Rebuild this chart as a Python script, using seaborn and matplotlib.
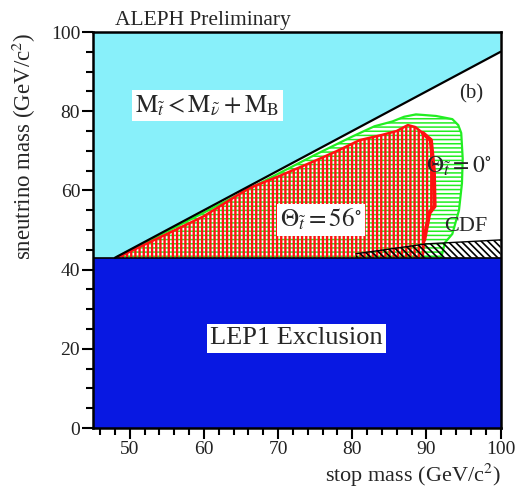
import matplotlib
matplotlib.use("Agg")
import matplotlib.pyplot as plt
import seaborn as sns
import pandas as pd
import numpy as np

# Axis ranges and ticks
x_range = [45, 100]
y_range = [0, 100]
x_major = [50, 60, 70, 80, 90, 100]
y_major = [0, 20, 40, 60, 80, 100]

# LEP1 sneutrino exclusion
lep1_limit = 43.0

# Kinematic limit M_stop = M_snu + M_b
kin_stop = [48.0, 100.0]
kin_snu = [43.0, 95.0]

# Excluded region, mixing angle 0 deg (green)
green_stop = [48.3, 55.0, 60.0, 66.0, 70.0, 75.0, 80.0, 83.0, 85.4, 87.0, 88.6,
              91.3, 93.5, 94.3, 94.7, 94.9, 94.8, 94.4, 93.5, 92.5, 92.0, 48.3]
green_snu = [43.2, 49.6, 54.4, 60.3, 64.2, 69.0, 73.6, 76.2, 77.4, 78.6, 79.2,
             78.8, 78.0, 76.5, 74.5, 68.0, 61.8, 55.0, 49.0, 46.8, 43.0, 43.0]

# Excluded region, mixing angle 56 deg (red)
red_stop = [48.5, 55.0, 60.0, 66.0, 70.0, 75.0, 78.0, 81.0, 84.0, 86.0, 87.5,
            88.5, 89.5, 90.6, 91.0, 91.1, 90.4, 89.7, 89.5, 48.5]
red_snu = [43.2, 49.0, 53.5, 60.5, 63.5, 67.5, 70.0, 72.7, 74.0, 75.0, 76.5,
           76.0, 74.5, 72.7, 65.0, 56.0, 54.3, 47.5, 43.0, 43.0]

# CDF excluded band
cdf_stop = [80.5, 80.5, 90.0, 100.0, 100.0]
cdf_snu = [43.0, 44.0, 46.5, 47.5, 43.0]

cyan = "#88f0fa"
blue = "#0818e2"
green = "#22ee22"
red = "#ff1010"

sns.set_theme(style="ticks")
plt.rcParams["font.family"] = ["Liberation Serif", "DejaVu Serif"]
plt.rcParams["mathtext.fontset"] = "stix"

fig = plt.figure(figsize=(5.16, 4.91), dpi=100)
ax = fig.add_axes([0.1797, 0.1283, 0.7903, 0.8065])
ax.set_xlim(*x_range)
ax.set_ylim(*y_range)

# Region above the kinematic limit
cyan_x = [x_range[0], kin_stop[0], kin_stop[1], x_range[1], x_range[1], x_range[0]]
cyan_y = [lep1_limit, kin_snu[0], kin_snu[1], kin_snu[1], y_range[1], y_range[1]]
ax.fill(cyan_x, cyan_y, facecolor=cyan, edgecolor="none", zorder=1)

# LEP1 exclusion
ax.fill_between(x_range, [0, 0], [lep1_limit, lep1_limit], facecolor=blue,
                edgecolor="none", zorder=1)

# Green (0 deg) region
with plt.rc_context({"hatch.linewidth": 1.1}):
    ax.fill(green_stop, green_snu, facecolor="white", edgecolor=green,
            hatch="----", linewidth=0, zorder=2)
ax.plot(green_stop[:-1], green_snu[:-1], color=green, lw=1.6, zorder=2.1)

# Red (56 deg) region
with plt.rc_context({"hatch.linewidth": 1.7}):
    ax.fill(red_stop, red_snu, facecolor="none", edgecolor=red, hatch="||||",
            linewidth=0, zorder=3)
ax.plot(red_stop[:-1], red_snu[:-1], color=red, lw=1.8, zorder=3.1)
ax.plot(red_stop[12:18], red_snu[12:18], color=red, lw=3.0, zorder=3.1)

# CDF band
with plt.rc_context({"hatch.linewidth": 1.2}):
    ax.fill(cdf_stop, cdf_snu, facecolor="none", edgecolor="black",
            hatch="\\\\\\\\\\", linewidth=0, zorder=4)
ax.plot(cdf_stop[1:4], cdf_snu[1:4], color="black", lw=1.0, zorder=4)
ax.axhline(lep1_limit, color="black", lw=1.2, zorder=4)

# Kinematic limit line
kin = pd.DataFrame({"stop": kin_stop, "snu": kin_snu})
sns.lineplot(data=kin, x="stop", y="snu", color="black", lw=1.6, ax=ax, zorder=5)

# Labels
box = dict(facecolor="white", edgecolor="none", pad=2.5)
ax.text(60.45, 81.4,
        r"$\mathrm{M}_{\tilde{t}} < \mathrm{M}_{\tilde{\nu}} + \mathrm{M}_{\mathrm{B}}$",
        fontsize=18, ha="center", va="center", bbox=box, zorder=6)
ax.text(96.05, 84.3, "(b)", fontsize=15, ha="center", va="center", zorder=6)
ax.text(89.9, 66.2, r"$\Theta_{\tilde{t}} = 0^{\circ}$", fontsize=17,
        ha="left", va="center", zorder=6, clip_on=False)
ax.text(75.8, 52.6, r"$\Theta_{\tilde{t}} = 56^{\circ}$", fontsize=18,
        ha="center", va="center", bbox=box, zorder=6)
ax.text(95.3, 51.0, "CDF", fontsize=16, ha="center", va="center", zorder=6)
ax.text(72.5, 22.7, "LEP1 Exclusion", fontsize=19, ha="center", va="center",
        bbox=dict(facecolor="white", edgecolor="none", pad=2.5), zorder=6)
ax.text(48.0, 103.0, "ALEPH Preliminary", fontsize=15.5, ha="left", va="center",
        clip_on=False)

# Axes styling
ax.set_xticks(x_major)
ax.set_yticks(y_major)
ax.set_xticks(np.arange(46, 100, 2), minor=True)
ax.set_yticks(np.arange(5, 100, 5), minor=True)
ax.tick_params(axis="both", which="major", direction="out", length=8, width=1.5,
               labelsize=14, pad=1, color="black", labelcolor="#222222")
ax.tick_params(axis="both", which="minor", direction="out", length=5, width=1.5,
               color="black")
for side in ["top", "right", "bottom", "left"]:
    ax.spines[side].set_visible(True)
    ax.spines[side].set_linewidth(1.8)
    ax.spines[side].set_color("black")
    ax.spines[side].set_zorder(10)

ax.set_xlabel(r"stop mass (GeV/c$^{2}$)", fontsize=16, loc="right")
ax.set_ylabel(r"sneutrino mass (GeV/c$^{2}$)", fontsize=16.5, loc="top")
ax.xaxis.set_label_coords(1.0, -0.085)
ax.yaxis.set_label_coords(-0.135, 1.0)

fig.savefig("out.png", dpi=100)
